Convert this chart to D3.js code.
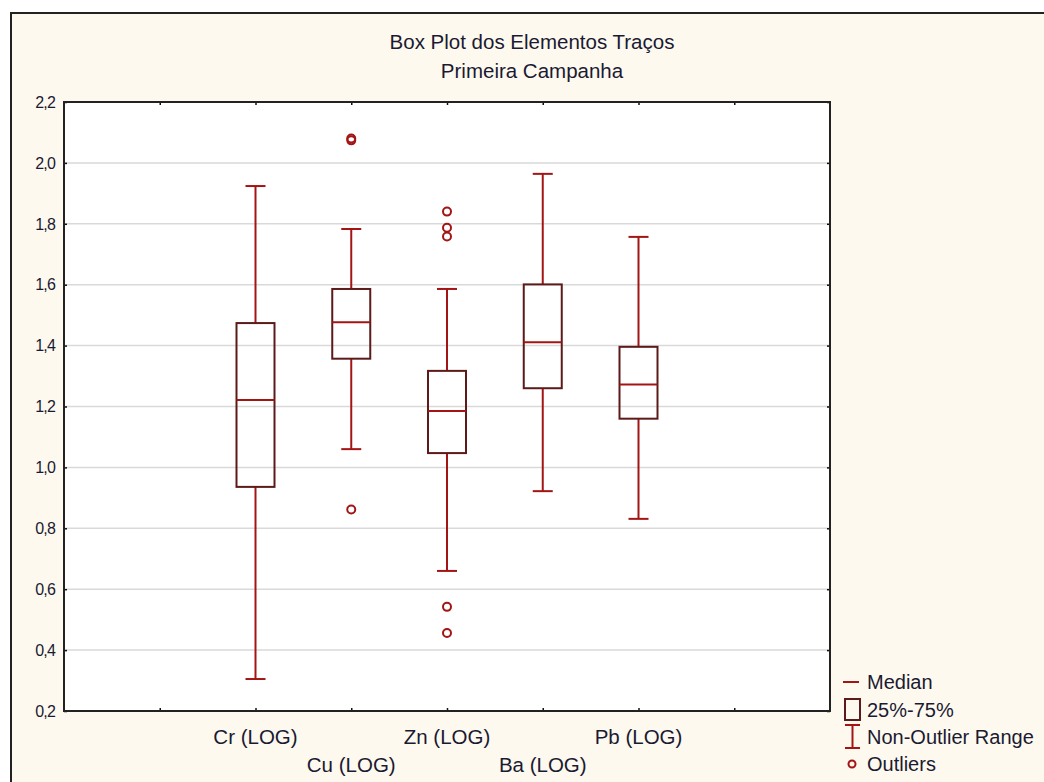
<!DOCTYPE html>
<html><head><meta charset="utf-8">
<script src="https://cdn.jsdelivr.net/npm/d3@7"></script>
<style>body{margin:0;background:#fff}svg{display:block}text{font-family:"Liberation Sans",Arial,sans-serif}</style>
</head><body><svg id="c" width="1044" height="782"></svg>
<script>
const categories = ["Cr (LOG)", "Cu (LOG)", "Zn (LOG)", "Ba (LOG)", "Pb (LOG)"];
const whiskerLow  = [0.305, 1.060, 0.660, 0.922, 0.831];
const q1          = [0.936, 1.357, 1.047, 1.260, 1.160];
const medians     = [1.221, 1.477, 1.185, 1.411, 1.272];
const q3          = [1.474, 1.586, 1.317, 1.601, 1.396];
const whiskerHigh = [1.924, 1.783, 1.586, 1.964, 1.757];
const outliers = [[], [2.074, 2.080, 0.862], [1.840, 1.787, 1.758, 0.542, 0.456], [], []];
const yTicks = [0.2, 0.4, 0.6, 0.8, 1.0, 1.2, 1.4, 1.6, 1.8, 2.0, 2.2];
const xTickPositions = [1, 2, 3, 4, 5, 6, 7];
const legendLabels = ["Median", "25%-75%", "Non-Outlier Range", "Outliers"];

const svg = d3.select("#c");
const red = "#a31515", boxCol = "#5c1a1a", txt = "#1a1a33";
const L = 64, R = 830, T = 102, B = 711;

svg.append("rect").attr("x", 11).attr("y", 13).attr("width", 1060).attr("height", 800)
  .attr("fill", "#fef9ee").attr("stroke", "#222").attr("stroke-width", 2);

const x = d3.scaleLinear().domain([0, 8]).range([L, R]);
const y = d3.scaleLinear().domain([0.2, 2.2]).range([B, T]);

svg.append("rect").attr("x", L).attr("y", T).attr("width", R - L).attr("height", B - T).attr("fill", "#fff");

// gridlines
svg.append("g").selectAll("line").data(yTicks.slice(1, -1)).join("line")
  .attr("x1", L).attr("x2", R).attr("y1", d => y(d)).attr("y2", d => y(d))
  .attr("stroke", "#d9d9d9").attr("stroke-width", 1.5);

// axes with inward ticks
const fmt = d => d3.format(".1f")(d).replace(".", ",");
const yAxis = svg.append("g").attr("transform", `translate(${L},0)`)
  .call(d3.axisRight(y).tickValues(yTicks).tickSize(3).tickFormat(""));
const yAxisR = svg.append("g").attr("transform", `translate(${R},0)`)
  .call(d3.axisLeft(y).tickValues(yTicks).tickSize(3).tickFormat(""));
const xAxisB = svg.append("g").attr("transform", `translate(0,${B})`)
  .call(d3.axisTop(x).tickValues(xTickPositions).tickSize(3).tickFormat(""));
const xAxisT = svg.append("g").attr("transform", `translate(0,${T})`)
  .call(d3.axisBottom(x).tickValues(xTickPositions).tickSize(3).tickFormat(""));
[yAxis, yAxisR, xAxisB, xAxisT].forEach(g => {
  g.select(".domain").remove();
  g.selectAll(".tick line").attr("stroke", "#111").attr("stroke-width", 1.5);
});

svg.append("g").selectAll("text").data(yTicks).join("text")
  .attr("x", 55).attr("y", d => y(d)).attr("dy", "0.36em").attr("text-anchor", "end")
  .attr("font-size", 16).attr("fill", txt).attr("letter-spacing", -0.8).text(fmt);

// boxes
const bw = 38, cw = 20;
const g = svg.append("g");
categories.forEach((c, i) => {
  const cx = x(i + 2);
  g.append("line").attr("x1", cx).attr("x2", cx).attr("y1", y(whiskerHigh[i])).attr("y2", y(q3[i]))
    .attr("stroke", red).attr("stroke-width", 2);
  g.append("line").attr("x1", cx).attr("x2", cx).attr("y1", y(q1[i])).attr("y2", y(whiskerLow[i]))
    .attr("stroke", red).attr("stroke-width", 2);
  g.append("line").attr("x1", cx - cw / 2).attr("x2", cx + cw / 2).attr("y1", y(whiskerHigh[i])).attr("y2", y(whiskerHigh[i]))
    .attr("stroke", red).attr("stroke-width", 2);
  g.append("line").attr("x1", cx - cw / 2).attr("x2", cx + cw / 2).attr("y1", y(whiskerLow[i])).attr("y2", y(whiskerLow[i]))
    .attr("stroke", red).attr("stroke-width", 2);
  g.append("rect").attr("x", cx - bw / 2).attr("y", y(q3[i])).attr("width", bw).attr("height", y(q1[i]) - y(q3[i]))
    .attr("fill", "none").attr("stroke", boxCol).attr("stroke-width", 2);
  g.append("line").attr("x1", cx - bw / 2).attr("x2", cx + bw / 2).attr("y1", y(medians[i])).attr("y2", y(medians[i]))
    .attr("stroke", red).attr("stroke-width", 2);
  g.selectAll(null).data(outliers[i]).join("circle")
    .attr("cx", cx).attr("cy", d => y(d)).attr("r", 4)
    .attr("fill", "none").attr("stroke", red).attr("stroke-width", 2);
});

// plot border
svg.append("rect").attr("x", L).attr("y", T).attr("width", R - L).attr("height", B - T)
  .attr("fill", "none").attr("stroke", "#222").attr("stroke-width", 2);

// x labels
svg.append("g").selectAll("text").data(categories).join("text")
  .attr("x", (d, i) => x(i + 2)).attr("y", (d, i) => i % 2 === 0 ? 744 : 772)
  .attr("text-anchor", "middle").attr("font-size", 20.5).attr("fill", txt).text(d => d);

// title
svg.append("text").attr("x", 532).attr("y", 49).attr("text-anchor", "middle").attr("font-size", 20.5)
  .attr("fill", txt).text("Box Plot dos Elementos Traços");
svg.append("text").attr("x", 532).attr("y", 78).attr("text-anchor", "middle").attr("font-size", 20.5)
  .attr("fill", txt).text("Primeira Campanha");

// legend
const lg = svg.append("g");
const ly = [682, 710, 737, 764];
lg.append("line").attr("x1", 843).attr("x2", 859).attr("y1", ly[0]).attr("y2", ly[0]).attr("stroke", red).attr("stroke-width", 2);
lg.append("rect").attr("x", 845).attr("y", ly[1] - 11).attr("width", 15).attr("height", 21).attr("fill", "none").attr("stroke", boxCol).attr("stroke-width", 2);
lg.append("line").attr("x1", 852.5).attr("x2", 852.5).attr("y1", ly[2] - 12).attr("y2", ly[2] + 11).attr("stroke", red).attr("stroke-width", 2);
lg.append("line").attr("x1", 845).attr("x2", 860).attr("y1", ly[2] - 12).attr("y2", ly[2] - 12).attr("stroke", red).attr("stroke-width", 2);
lg.append("line").attr("x1", 845).attr("x2", 860).attr("y1", ly[2] + 11).attr("y2", ly[2] + 11).attr("stroke", red).attr("stroke-width", 2);
lg.append("circle").attr("cx", 852).attr("cy", ly[3]).attr("r", 3.5).attr("fill", "none").attr("stroke", red).attr("stroke-width", 2);
lg.selectAll("text").data(legendLabels).join("text")
  .attr("x", 867).attr("y", (d, i) => ly[i]).attr("dy", "0.36em")
  .attr("font-size", 20).attr("fill", txt).text(d => d);
</script></body></html>
